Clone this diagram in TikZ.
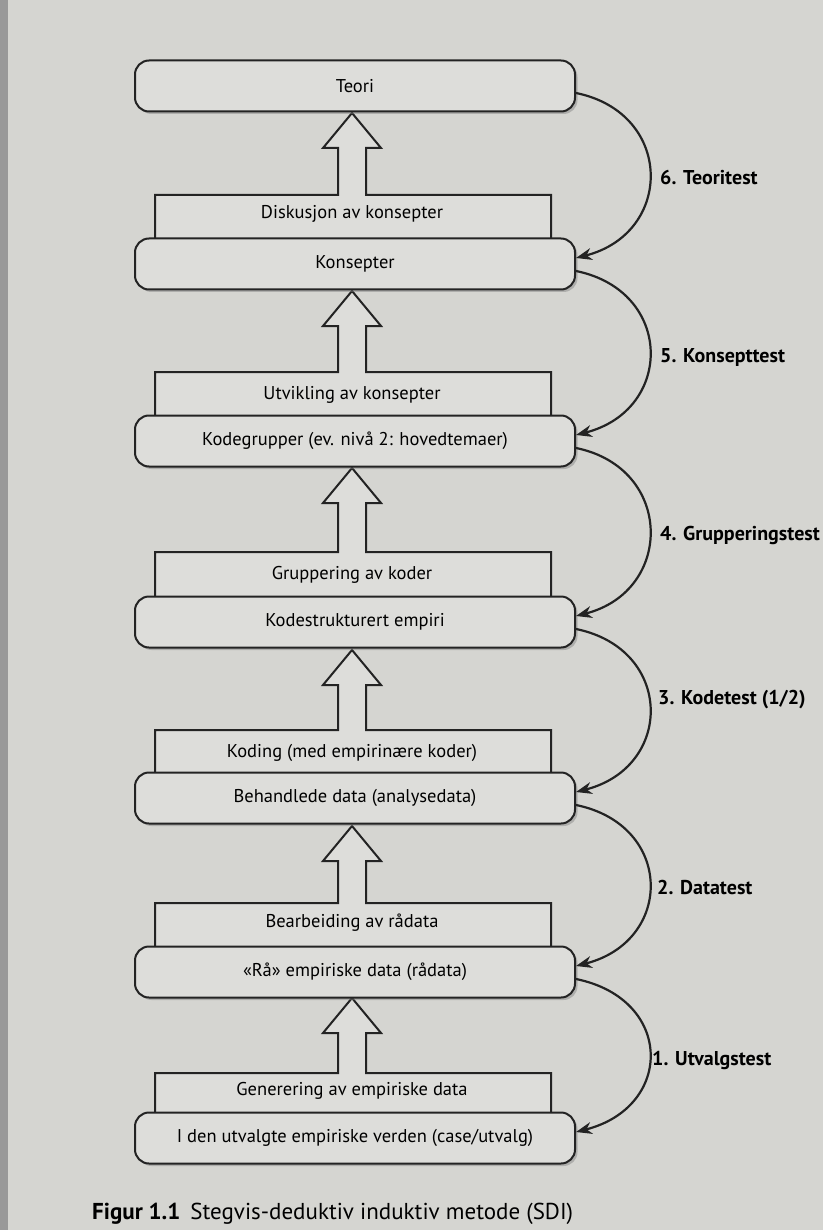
\documentclass[tikz,border=0pt]{standalone}
\usepackage{fontspec}
\setmainfont{PT Sans}
\usetikzlibrary{arrows.meta,shadows}
\definecolor{ink}{HTML}{232323}
\definecolor{page}{HTML}{D5D5D1}
\definecolor{boxfill}{HTML}{DDDDDA}
\newcommand\stagepath[3]{%
  \filldraw[stage] (155,#3) -- (155,#1) -- (338,#1) -- (338,{#2+35}) -- (323,{#2+35})
    -- (352,#2) -- (381,{#2+35}) -- (366,{#2+35}) -- (366,#1) -- (551,#1) -- (551,#3);}
\begin{document}
\begin{tikzpicture}[x=1pt,y=-1pt,
  lvl/.style={draw=ink, line width=2pt, rounded corners=14pt, fill=boxfill,
    minimum width=440pt, minimum height=51pt, inner sep=0pt,
    font=\fontsize{18.5}{20}\selectfont,
    drop shadow={shadow xshift=2.5pt,shadow yshift=-2.5pt,opacity=0.45}},
  stage/.style={draw=ink, line width=2pt, fill=boxfill, line join=miter},
  steplabel/.style={font=\fontsize{18.5}{20}\selectfont, inner sep=0pt},
  testarrow/.style={draw=ink, line width=2.2pt, -{Stealth[length=16pt,width=12pt]}},
  testlabel/.style={font=\bfseries\fontsize{20}{22}\selectfont, anchor=west, inner sep=0pt},
]
\useasboundingbox (0,0) rectangle (823,1230);
\fill[page] (0,0) rectangle (823,1230);
\fill[black!40] (0,0) rectangle (8,1230);

% stage shapes (rectangle + hollow up-arrow)
\stagepath{1073}{998}{1130}
\stagepath{903}{826}{965}
\stagepath{730}{650}{790}
\stagepath{552}{468}{612}
\stagepath{372}{291}{430}
\stagepath{195}{113}{255}

\node[steplabel] (s1) at (352,1091) {Generering av empiriske data};
\node[steplabel] (s2) at (352,923) {Bearbeiding av rådata};
\node[steplabel] (s3) at (352,753) {Koding (med empirinære koder)};
\node[steplabel] (s4) at (352,575) {Gruppering av koder};
\node[steplabel] (s5) at (352,395) {Utvikling av konsepter};
\node[steplabel] (s6) at (352,214) {Diskusjon av konsepter};

% level boxes
\node[lvl] (l0) at (355,1138) {I den utvalgte empiriske verden (case/utvalg)};
\node[lvl] (l1) at (355,972) {«Rå» empiriske data (rådata)};
\node[lvl] (l2) at (355,798) {Behandlede data (analysedata)};
\node[lvl] (l3) at (355,622) {Kodestrukturert empiri};
\node[lvl] (l4) at (355,441) {Kodegrupper (ev. nivå 2: hovedtemaer)};
\node[lvl] (l5) at (355,264) {Konsepter};
\node[lvl] (l6) at (355,86) {Teori};

% test arrows
\foreach \a/\b in {l6/l5,l5/l4,l4/l3,l3/l2,l2/l1,l1/l0}{
  \draw[testarrow] ([yshift=-7pt]\a.east) .. controls +(98,20) and +(98,-25) .. ([yshift=6pt]\b.east);
}
\node[testlabel] (t6) at (660,178) {6. Teoritest};
\node[testlabel] (t5) at (660,357) {5. Konsepttest};
\node[testlabel] (t4) at (660,535) {4. Grupperingstest};
\node[testlabel] (t3) at (658,700) {3. Kodetest (1/2)};
\node[testlabel] (t2) at (657,887) {2. Datatest};
\node[testlabel] (t1) at (652,1060) {1. Utvalgstest};

% caption
\node[anchor=base west, inner sep=0pt] (cap) at (92,1219)
  {{\fontsize{23}{26}\selectfont\bfseries Figur 1.1}\hspace{10pt}{\fontsize{23}{26}\selectfont Stegvis-deduktiv induktiv metode (SDI)}};
\end{tikzpicture}
\end{document}
